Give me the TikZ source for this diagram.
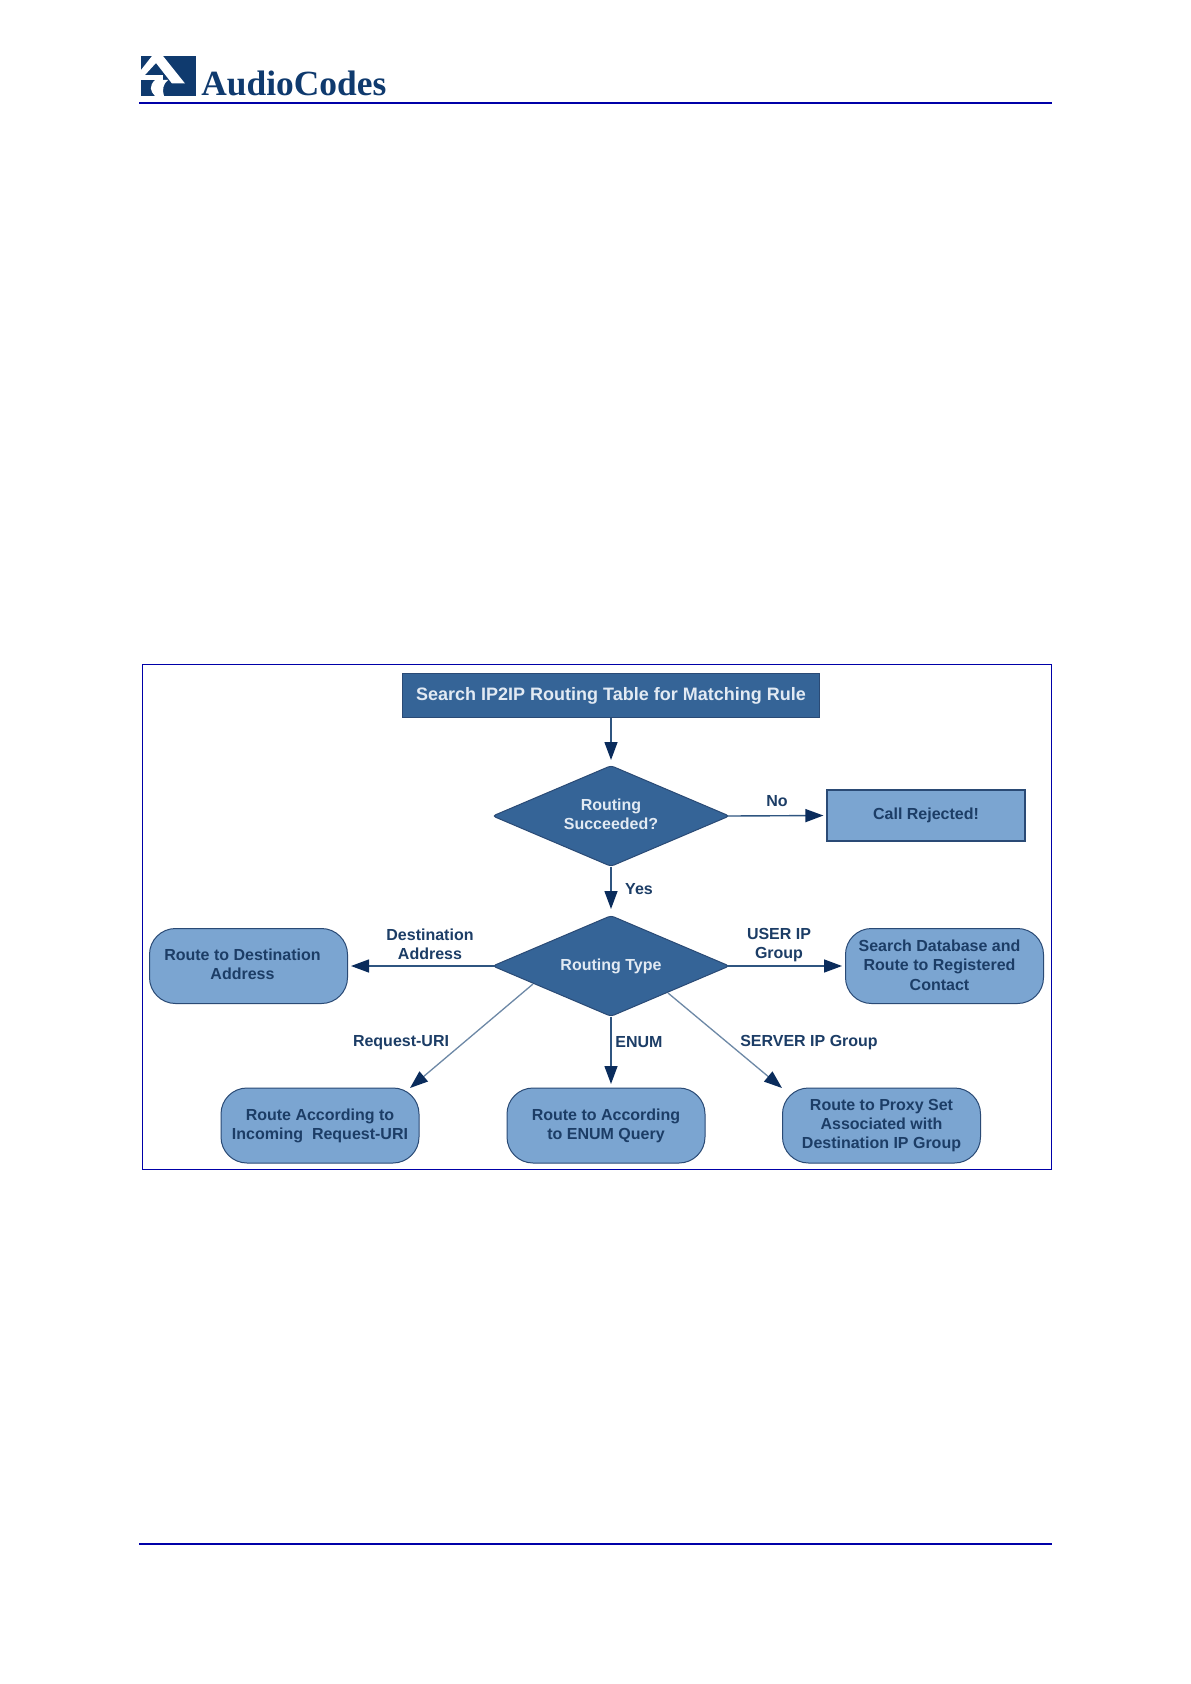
\documentclass[tikz,border=0pt]{standalone}
\usepackage{fontspec}
\usepackage{graphicx}
\setmainfont{Liberation Sans}
\newfontfamily\logofont{Liberation Serif}
\usetikzlibrary{shapes.geometric,arrows.meta}
\definecolor{rule}{HTML}{0000A8}
\definecolor{navy}{HTML}{0F3A6E}
\definecolor{darkfill}{HTML}{356497}
\definecolor{lightfill}{HTML}{7BA5D1}
\definecolor{edge}{HTML}{2A4A75}
\definecolor{arrowline}{HTML}{2F5580}
\definecolor{tip}{HTML}{0A2C5C}
\definecolor{inktext}{HTML}{1C3D66}
\definecolor{paletext}{HTML}{E2EAF3}
\newcommand{\liftA}{\rule[-2pt]{0pt}{0pt}}
\newcommand{\liftB}{\rule[-1pt]{0pt}{0pt}}
\tikzset{
  x=0.5pt,y=-0.5pt,
  txt/.style={font=\bfseries\fontsize{8}{9.6}\selectfont,align=center,inner sep=0pt,text=inktext},
  darkbox/.style={txt,draw=edge,fill=darkfill,text=paletext,line width=0.5pt},
  lightrect/.style={txt,draw=edge,fill=lightfill,line width=0.6pt,minimum width=99pt,minimum height=25.5pt},
  roundbox/.style={txt,draw=edge,fill=lightfill,line width=0.5pt,rounded corners=13pt,minimum width=99pt,minimum height=37.5pt},
  decision/.style={darkbox,diamond,shape aspect=2.33,minimum width=118.5pt,minimum height=50.5pt,rounded corners=1.6pt},
  flow/.style={draw=arrowline,line width=0.7pt,-{Triangle[length=9pt,width=6.5pt,color=tip]}},
  thinflow/.style={flow,draw=arrowline!70!white,line width=0.65pt},
}
\begin{document}
\begin{tikzpicture}
\useasboundingbox (0,0) rectangle (1190,1684);
\fill[white] (0,0) rectangle (1190,1684);
% header
\fill[navy] (141,56) rectangle (196,96);
\fill[white] (141,70) -- (152,56) -- (163,56) -- (185,83.5) -- (172,83.5) -- (156,63) -- (145,75) -- (141,75) -- cycle;
\fill[white] (141,75) -- (163,75) -- (163,80) -- (141,80) -- cycle;
\fill[white] (155,80) .. controls (149,86) and (150,91) .. (155,96) -- (164,96) .. controls (162,90) and (163,84) .. (168,80) -- cycle;
\node[anchor=base west,inner sep=0pt,text=navy] (brand) at (201,96) {\logofont\bfseries\fontsize{17.7}{18}\selectfont AudioCodes};
\draw[rule,line width=1pt] (139,103) -- (1052,103);
\draw[rule,line width=1.2pt] (139,1544) -- (1052,1544);
% frame
\draw[rule,line width=0.5pt] (142.5,664.5) rectangle (1051.5,1169);
% nodes
\node[darkbox,font=\bfseries\fontsize{9}{10.8}\selectfont,minimum width=208.5pt,minimum height=22pt] (top) at (611,695.5) {Search IP2IP Routing Table for Matching Rule};
\node[decision] (d1) at (611,816) {Routing\\Succeeded?\liftA};
\node[decision] (d2) at (611,966) {Routing Type};
\node[lightrect] (rej) at (926,815.5) {Call Rejected!};
\node[roundbox] (dest) at (248.5,966) {\mbox{Route to Destination\hspace{6pt}}\\\mbox{Address\hspace{6pt}}\liftA};
\node[roundbox] (search) at (944.5,966) {\mbox{Search Database and\hspace{5pt}}\\\mbox{Route to Registered\hspace{5pt}}\\\mbox{Contact\hspace{5pt}}\liftB};
\node[roundbox] (req) at (320,1125.5) {Route According to\\Incoming\ \ Request-URI};
\node[roundbox] (enum) at (606,1125.5) {Route to According\\to ENUM Query};
\node[roundbox] (proxy) at (881.5,1125.5) {Route to Proxy Set\\Associated with\\Destination IP Group};
% connector ends
\coordinate (dl) at (533,984);
\coordinate (dr) at (668,993);
\coordinate (tl) at (410,1088);
\coordinate (tr) at (782,1088);
\coordinate (enumtop) at (611,1088);
% connectors
\draw[flow,shorten >=2.5pt] (top.south) -- (d1.north);
\draw[flow,shorten >=3pt] (d1.south) -- (d2.north);
\draw[flow,shorten <=-1.5pt,shorten >=1.5pt] (d1.east) -- (rej.west);
\draw[flow,shorten <=-1.5pt,shorten >=1.5pt] (d2.west) -- (dest.east);
\draw[flow,shorten <=-1.5pt,shorten >=1.5pt] (d2.east) -- (search.west);
\draw[flow,shorten >=2pt] (d2.south) -- (enumtop);
\draw[thinflow] (dl) -- (tl);
\draw[thinflow] (dr) -- (tr);
% labels
\node[txt] (lno) at (777,801) {No};
\node[txt] (lyes) at (639,889) {Yes};
\node[txt] (ldest) at (430,944) {Destination\\Address};
\node[txt] (luser) at (779,945) {USER IP\\Group};
\node[txt] (lreq) at (401,1043) {Request-URI};
\node[txt] (lenum) at (639,1042) {ENUM};
\node[txt] (lserver) at (809,1043) {SERVER IP Group};
\end{tikzpicture}
\end{document}
